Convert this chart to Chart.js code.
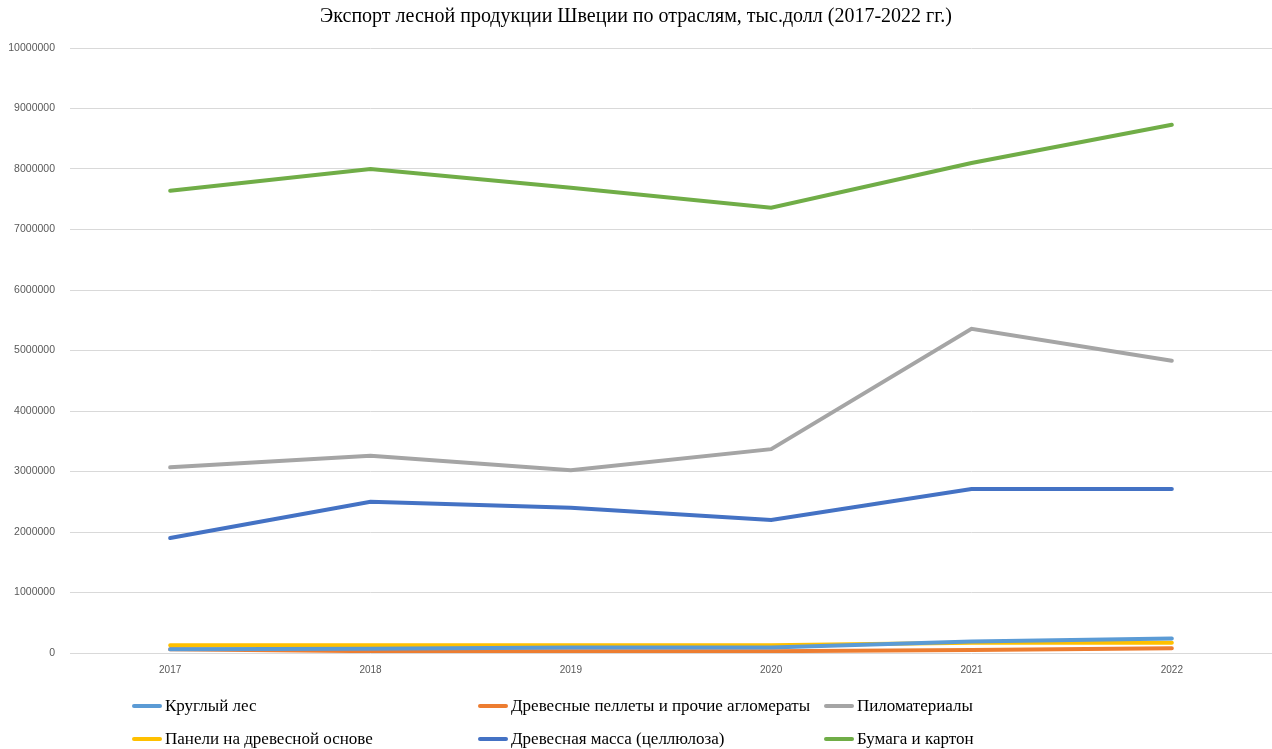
<!DOCTYPE html>
<html>
<head>
<meta charset="utf-8">
<script src="https://cdn.jsdelivr.net/npm/chart.js@4.4.1/dist/chart.umd.min.js"></script>
<style>
  html, body { margin: 0; padding: 0; background: #fff; }
  #wrap { position: relative; width: 1272px; height: 749px; }
  #legend { position: absolute; left: 0; top: 690px; width: 1272px; height: 59px;
    font-family: "Liberation Serif", "Times New Roman", serif; font-size: 17px; color: #000; }
  .item { position: absolute; display: flex; align-items: center; white-space: nowrap; }
  .swatch { width: 30px; height: 4px; border-radius: 2px; margin-right: 3px; }
</style>
</head>
<body>
<div id="wrap">
  <canvas id="chart" width="1272" height="749"></canvas>
  <div id="legend"></div>
</div>
<script>
const years = ["2017", "2018", "2019", "2020", "2021", "2022"];

const roundwood = [60000, 70000, 90000, 90000, 190000, 240000];
const pellets = [60000, 30000, 30000, 30000, 50000, 80000];
const sawnwood = [3070000, 3260000, 3020000, 3370000, 5360000, 4830000];
const panels = [130000, 130000, 130000, 130000, 170000, 170000];
const pulp = [1900000, 2500000, 2400000, 2200000, 2710000, 2710000];
const paper = [7640000, 8000000, 7690000, 7360000, 8100000, 8730000];

const seriesNames = [
  "Круглый лес",
  "Древесные пеллеты и прочие агломераты",
  "Пиломатериалы",
  "Панели на древесной основе",
  "Древесная масса (целлюлоза)",
  "Бумага и картон"
];
const seriesColors = ["#5B9BD5", "#ED7D31", "#A5A5A5", "#FFC000", "#4472C4", "#70AD47"];
const seriesData = [roundwood, pellets, sawnwood, panels, pulp, paper];

const ctx = document.getElementById("chart").getContext("2d");

new Chart(ctx, {
  type: "line",
  data: {
    labels: years,
    datasets: seriesData.map((values, i) => ({
      label: seriesNames[i],
      data: values,
      borderColor: seriesColors[i],
      backgroundColor: seriesColors[i],
      borderWidth: 4,
      pointRadius: 0,
      tension: 0,
      borderCapStyle: "round"
    }))
  },
  options: {
    responsive: false,
    animation: false,
    layout: { padding: { left: 0, right: 0, top: 0, bottom: 70 } },
    plugins: {
      legend: { display: false },
      tooltip: { enabled: false },
      title: {
        display: true,
        text: "Экспорт лесной продукции Швеции по отраслям, тыс.долл (2017-2022 гг.)",
        color: "#000",
        font: { family: "'Liberation Serif', 'Times New Roman', serif", size: 20, weight: "normal" },
        padding: { top: 5, bottom: 19 }
      }
    },
    scales: {
      x: {
        offset: true,
        grid: { display: false },
        border: { display: false },
        ticks: { color: "#595959", font: { family: "'Liberation Sans', sans-serif", size: 10 }, padding: 3 }
      },
      y: {
        min: 0,
        max: 10000000,
        afterFit: scale => { scale.width = 70; },
        grid: { color: "#d9d9d9", lineWidth: 1, drawTicks: false },
        border: { display: false },
        ticks: {
          stepSize: 1000000,
          color: "#595959",
          font: { family: "'Liberation Sans', sans-serif", size: 10.5 },
          padding: 15,
          callback: v => String(v)
        }
      }
    }
  }
});

// legend laid out as a fixed 3-column grid
const legendPos = [[132, 16], [478, 16], [824, 16], [132, 49], [478, 49], [824, 49]];
const legend = document.getElementById("legend");
seriesNames.forEach((name, i) => {
  const item = document.createElement("div");
  item.className = "item";
  item.style.left = legendPos[i][0] + "px";
  item.style.top = (legendPos[i][1] - 10) + "px";
  item.innerHTML = `<span class="swatch" style="background:${seriesColors[i]}"></span><span>${name}</span>`;
  legend.appendChild(item);
});
</script>
</body>
</html>
